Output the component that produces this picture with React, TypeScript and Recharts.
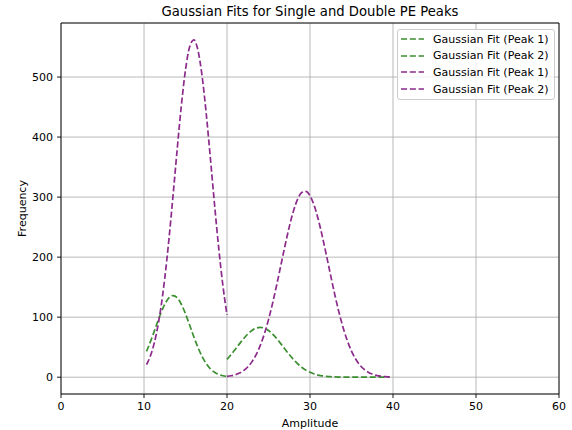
import React from 'react';
import { LineChart, Line, XAxis, YAxis, CartesianGrid, ReferenceArea, Legend, Label } from 'recharts';

const FONT = "'DejaVu Sans', 'Liberation Sans', sans-serif";

// x positions of the fitted curves
const xLow = [10.3, 10.5, 11, 11.5, 12, 12.5, 13, 13.5, 14, 14.5, 15, 15.5, 16, 16.5, 17, 17.5, 18, 18.5, 19, 19.5, 20];
const xHigh = [
  20, 20.5, 21, 21.5, 22, 22.5, 23, 23.5, 24, 24.5, 25, 25.5, 26, 26.5, 27, 27.5, 28, 28.5, 29, 29.5,
  30, 30.5, 31, 31.5, 32, 32.5, 33, 33.5, 34, 34.5, 35, 35.5, 36, 36.5, 37, 37.5, 38, 38.5, 39, 39.5, 39.6,
];

// green fits
const greenPeak1 = [43.0, 49.5, 67.4, 86.8, 105.6, 121.5, 132.2, 136, 132.2, 121.5, 105.6, 86.8, 67.4, 49.5, 34.3, 22.5, 14.0, 8.2, 4.5, 2.4, 1.2];
const greenPeak2 = [
  29.6, 37.7, 46.4, 55.5, 64.1, 71.8, 77.8, 81.7, 83, 81.7, 77.8, 71.8, 64.1, 55.5, 46.4, 37.7, 29.6, 22.5, 16.5, 11.8,
  8.1, 5.4, 3.5, 2.2, 1.3, 0.8, 0.45, 0.25, 0.13, 0.07, 0.03, 0.02, 0.01, 0, 0, 0, 0, 0, 0, 0, 0,
];

// purple fits
const purplePeak1 = [20.9, 26.3, 45.0, 73.0, 112.5, 164.7, 229.1, 302.7, 379.8, 452.5, 512.1, 550.4, 561.9, 544.7, 501.6, 438.7, 364.4, 287.5, 215.4, 153.3, 103.6];
const purplePeak2 = [
  1.4, 2.4, 4.2, 6.8, 10.9, 17.0, 25.5, 37.2, 52.6, 72.1, 95.9, 123.6, 154.4, 187.1, 219.8, 250.4, 276.6, 296.2, 307.5, 309.6,
  302.3, 286.1, 262.6, 233.7, 201.6, 168.7, 136.8, 107.6, 82.1, 60.7, 43.5, 30.3, 20.4, 13.3, 8.4, 5.2, 3.1, 1.8, 1.0, 0.5, 0.5,
];

const xTicks = [0, 10, 20, 30, 40, 50, 60];
const yTicks = [0, 100, 200, 300, 400, 500];
const yDomain = [-28, 590];

const GREEN = '#3c8f30';
const PURPLE = '#8b2b8b';
const DASH = '6.1 2.7';

const toPoints = (xs: number[], ys: number[]) => xs.map((x, i) => ({ x, y: ys[i] }));

const series = [
  { key: 'g1', name: 'Gaussian Fit (Peak 1)', color: GREEN, data: toPoints(xLow, greenPeak1) },
  { key: 'g2', name: 'Gaussian Fit (Peak 2)', color: GREEN, data: toPoints(xHigh, greenPeak2) },
  { key: 'p1', name: 'Gaussian Fit (Peak 1)', color: PURPLE, data: toPoints(xLow, purplePeak1) },
  { key: 'p2', name: 'Gaussian Fit (Peak 2)', color: PURPLE, data: toPoints(xHigh, purplePeak2) },
];

const renderLegend = () => (
  <div
    style={{
      boxSizing: 'border-box',
      width: 158,
      height: 71,
      border: '1px solid #cccccc',
      borderRadius: 3,
      background: 'rgba(255,255,255,0.8)',
      paddingTop: 0.7,
      fontFamily: FONT,
      fontSize: 11,
      color: '#000',
    }}
  >
    {series.map((s) => (
      <div key={s.key} style={{ display: 'flex', alignItems: 'center', height: 16.7, paddingLeft: 3 }}>
        <svg width={23} height={6} style={{ display: 'block' }}>
          <line x1={0} y1={3} x2={23} y2={3} stroke={s.color} strokeWidth={1.7} strokeDasharray={DASH} />
        </svg>
        <span style={{ marginLeft: 9, whiteSpace: 'nowrap', lineHeight: '11px' }}>{s.name}</span>
      </div>
    ))}
  </div>
);

const tickStyle = { fontSize: 11, fill: '#000', fontFamily: FONT };

export default function App() {
  return (
    <div style={{ position: 'absolute', left: 0, top: 0, width: 572, height: 430, background: '#fff', fontFamily: FONT }}>
      <div
        style={{
          position: 'absolute',
          left: 61,
          top: 5.3,
          width: 498,
          textAlign: 'center',
          fontSize: 13.2,
          lineHeight: '13.2px',
          color: '#000',
          whiteSpace: 'nowrap',
        }}
      >
        Gaussian Fits for Single and Double PE Peaks
      </div>
      <LineChart width={572} height={430} margin={{ top: 23, right: 13, bottom: 0, left: 0 }}>
        <CartesianGrid stroke="#b0b0b0" strokeWidth={0.9} />
        <XAxis
          dataKey="x"
          type="number"
          domain={[0, 60]}
          ticks={xTicks}
          interval={0}
          allowDataOverflow
          height={36}
          axisLine={false}
          tickLine={{ stroke: '#000', strokeWidth: 0.9 }}
          tickSize={4}
          tickMargin={4}
          tick={tickStyle}
        >
          <Label
            content={() => (
              <text x={310} y={427} textAnchor="middle" fontSize={11} fill="#000" fontFamily={FONT}>
                Amplitude
              </text>
            )}
          />
        </XAxis>
        <YAxis
          type="number"
          domain={yDomain}
          ticks={yTicks}
          interval={0}
          allowDataOverflow
          width={61}
          axisLine={false}
          tickLine={{ stroke: '#000', strokeWidth: 0.9 }}
          tickSize={4}
          tickMargin={4}
          tick={tickStyle}
        >
          <Label
            content={() => (
              <text
                x={25.7}
                y={208.5}
                transform="rotate(-90 25.7 208.5)"
                textAnchor="middle"
                fontSize={11}
                fill="#000"
                fontFamily={FONT}
              >
                Frequency
              </text>
            )}
          />
        </YAxis>
        {series.map((s) => (
          <Line
            key={s.key}
            data={s.data}
            dataKey="y"
            name={s.name}
            type="monotone"
            stroke={s.color}
            strokeWidth={1.7}
            strokeDasharray={DASH}
            dot={false}
            activeDot={false}
            isAnimationActive={false}
            legendType="plainline"
          />
        ))}
        <ReferenceArea x1={0} x2={60} y1={-28} y2={590} fill="none" fillOpacity={0} stroke="#000" strokeWidth={0.9} />
        <Legend
          layout="horizontal"
          verticalAlign="middle"
          align="center"
          content={renderLegend}
          wrapperStyle={{ left: 397, top: 29, width: 158, height: 71 }}
        />
      </LineChart>
    </div>
  );
}
